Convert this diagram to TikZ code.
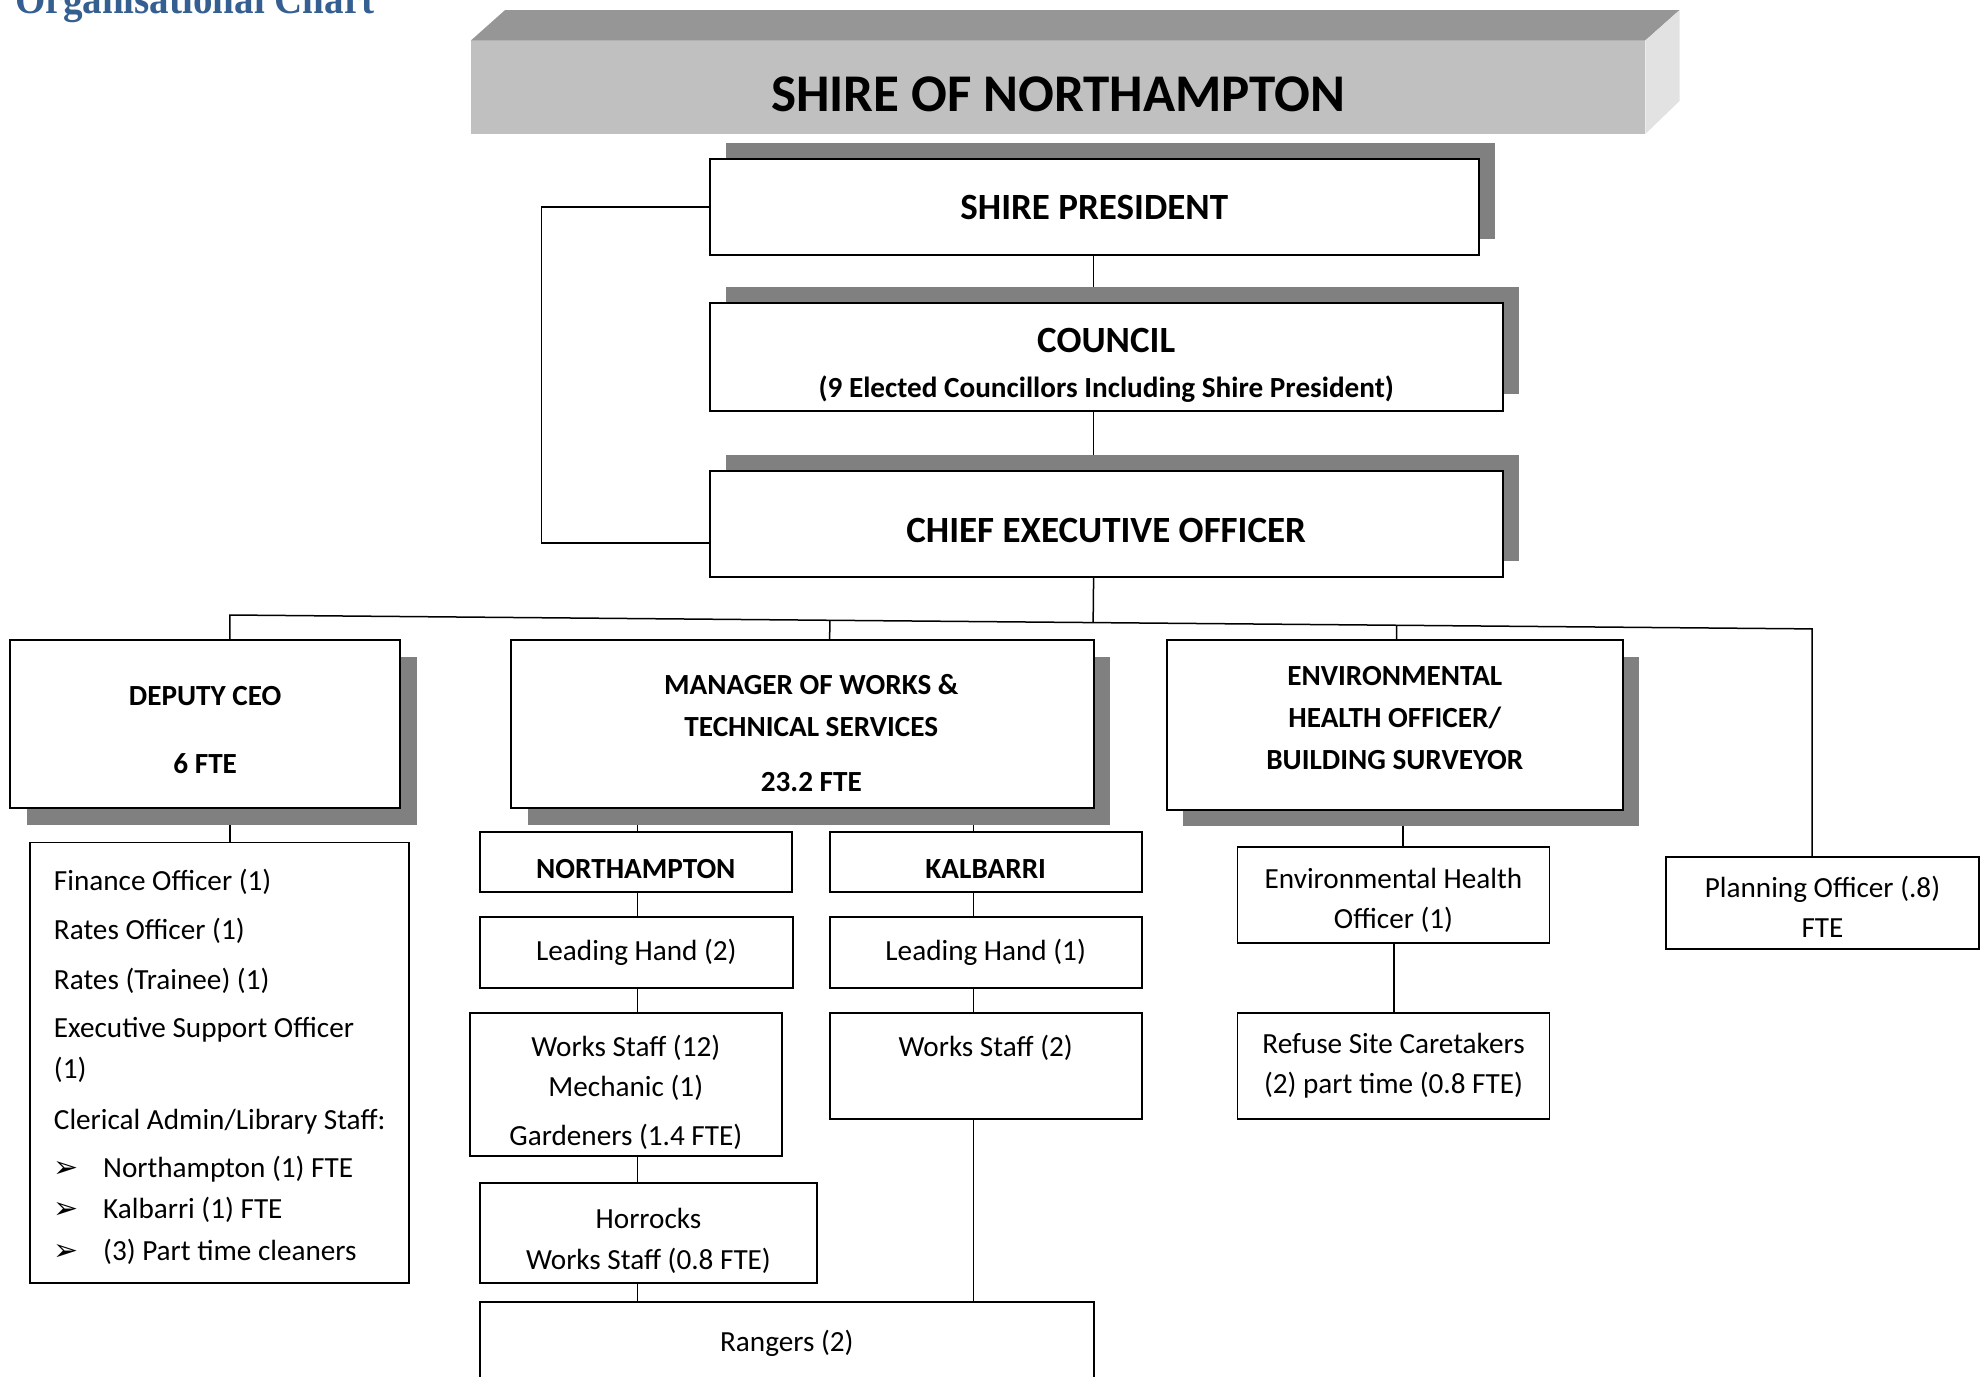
\documentclass[tikz,border=0pt]{standalone}
\usepackage{fontspec}
\setmainfont{Carlito}
\newfontfamily\symfont{DejaVu Sans}
\newfontfamily\headfont{Liberation Serif}
\usetikzlibrary{shadows,backgrounds,calc}
\definecolor{shadowgray}{RGB}{128,128,128}
\definecolor{bannertop}{RGB}{150,150,150}
\definecolor{bannerfront}{RGB}{192,192,192}
\definecolor{bannerside}{RGB}{226,226,226}
\definecolor{headblue}{RGB}{54,95,145}
\newcommand{\arrowbullet}{\makebox[24.6pt][l]{\symfont\fontsize{15}{15}\selectfont ➢}}

\begin{document}
\begin{tikzpicture}[x=5pt,y=5pt]
\tikzstyle{every node}+=[inner sep=0pt]
\tikzstyle{topbox}=[draw, line width=1pt, fill=white, align=center, font=\fontsize{18.5}{23}\selectfont\bfseries, general shadow={fill=shadowgray, shadow xshift=8.2pt, shadow yshift=8.2pt}]
\tikzstyle{deptbox}=[draw, line width=1pt, fill=white, align=center, font=\fontsize{14.6}{21}\selectfont\bfseries, general shadow={fill=shadowgray, shadow xshift=8.2pt, shadow yshift=-8.2pt}]
\tikzstyle{staffbox}=[draw, line width=0.9pt, fill=white, align=center, font=\fontsize{14.6}{20.2}\selectfont, minimum width=156pt]
\tikzstyle{link}=[line width=0.75pt]
\useasboundingbox (0,0) rectangle (198,-137.6);
% heading and banner
\node (heading) [anchor=base west, text=headblue, font=\headfont\fontsize{21}{23}\selectfont\bfseries] at (1.5,-1.35) {\scalebox{0.93}[1]{Organisational Chart}};
\fill [bannerfront] (47.1,-4.04) rectangle (164.54,-13.39);
\fill [bannertop] (47.1,-4.04) -- (50.5,-1.01) -- (167.95,-1.01) -- (164.54,-4.04) -- cycle;
\fill [bannerside] (164.54,-4.04) -- (167.95,-1.01) -- (167.95,-10.1) -- (164.54,-13.39) -- cycle;
\node (shire) [font=\fontsize{26.5}{30}\selectfont\bfseries] at (105.82,-9.47) {SHIRE OF NORTHAMPTON};
% council level
\node (sp) [topbox, minimum width=384.5pt, minimum height=48pt] at (109.42,-20.71) {SHIRE PRESIDENT};
\node (cncl) [topbox, minimum width=396.5pt, minimum height=53.7pt] at (110.62,-35.68) {\rule{0pt}{20.7pt}COUNCIL\\[-0.5pt]{\fontsize{14.6}{17}\selectfont (9 Elected Councillors Including Shire President)}};
\node (ceo) [topbox, minimum width=396.5pt, minimum height=53pt, text height=18.3pt] at (110.62,-52.41) {CHIEF EXECUTIVE OFFICER};
% departments
\node (dep) [deptbox, minimum width=195.1pt, minimum height=84pt] at (20.52,-72.42) {\rule{0pt}{15.8pt}DEPUTY CEO\\[13pt]6 FTE};
\node (mgr) [deptbox, minimum width=291.1pt, minimum height=84pt] at (80.25,-72.42) {\rule{0pt}{18.8pt}\hspace*{8.8pt}MANAGER OF WORKS \&\\\hspace*{8.8pt}TECHNICAL SERVICES\\[6.3pt]\hspace*{8.8pt}23.2 FTE};
\node (eho) [deptbox, minimum width=228pt, minimum height=84.6pt, text depth=7pt] at (139.48,-72.49) {ENVIRONMENTAL\\HEALTH OFFICER/\\BUILDING SURVEYOR};
\node (plan) [staffbox, minimum width=156.5pt, minimum height=46.2pt] at (182.25,-90.29) {\rule{0pt}{14.3pt}Planning Officer (.8)\\FTE};
% deputy ceo staff
\node (dlist) [staffbox, align=left, font=\fontsize{14.6}{20.8}\selectfont, minimum width=189.4pt, minimum height=220.3pt] at (21.97,-106.27) {\rule{0pt}{15pt}Finance Officer (1)\\[3.8pt]
Rates Officer (1)\\[3.8pt]
Rates (Trainee) (1)\\[3.2pt]
Executive Support Officer\\
(1)\\[4.5pt]
Clerical Admin/Library Staff:\hspace*{2.5pt}\\[3.2pt]
\arrowbullet Northampton (1) FTE\\
\arrowbullet Kalbarri (1) FTE\\
\arrowbullet (3) Part time cleaners};
% works
\node (nth) [staffbox, font=\fontsize{14.6}{17}\selectfont\bfseries, minimum height=29.7pt, text height=16.4pt] at (63.58,-86.19) {NORTHAMPTON};
\node (kal) [staffbox, font=\fontsize{14.6}{17}\selectfont\bfseries, minimum height=29.7pt, text height=16.4pt] at (98.57,-86.19) {KALBARRI};
\node (lhn) [staffbox, minimum width=156.5pt, minimum height=35.4pt] at (63.64,-95.22) {Leading Hand (2)};
\node (lhk) [staffbox, minimum height=35.4pt] at (98.57,-95.22) {Leading Hand (1)};
\node (wsn) [staffbox, minimum height=71.4pt] at (62.58,-108.42) {\rule{0pt}{18.8pt}Works Staff (12)\\Mechanic (1)\\[4pt]Gardeners (1.4 FTE)};
\node (wsk) [staffbox, minimum height=53pt] at (98.57,-106.58) {Works Staff (2)\\~};
\node (hor) [staffbox, minimum width=168.6pt, minimum height=49.9pt] at (64.85,-123.31) {\rule{0pt}{18pt}Horrocks\\Works Staff (0.8 FTE)};
\node (rng) [staffbox, minimum width=306.9pt, minimum height=41.5pt] at (78.68,-134.35) {Rangers (2)};
% health
\node (ehoff) [staffbox, minimum height=48pt] at (139.35,-89.53) {\rule{0pt}{15.5pt}Environmental Health\\Officer (1)};
\node (ref) [staffbox, minimum height=53pt] at (139.35,-106.58) {Refuse Site Caretakers\\(2) part time (0.8 FTE)};
% columns of the connectors
\coordinate (loopx) at (54.17,0);
\coordinate (ctr) at (109.36,0);
\coordinate (busL) at (22.98,-61.5);
\coordinate (busR) at (181.21,-62.89);
\coordinate (mcol) at (82.97,0);
\coordinate (ncol) at (63.77,0);
\coordinate (kcol) at (97.36,0);
\coordinate (ecol) at (139.67,0);
\coordinate (ecolb) at (140.3,0);
\coordinate (ecolc) at (139.41,0);
\begin{scope}[on background layer]
\draw [link] (sp.west) -- (sp.west -| loopx) |- ([yshift=-9.5pt]ceo.west);
\draw [link] (sp.south -| ctr) -- (cncl.north -| ctr);
\draw [link] (cncl.south -| ctr) -- (ceo.north -| ctr);
\draw [link] (ceo.south -| ctr) -- ($(busL)!(ceo.south -| ctr)!(busR)$);
\draw [link] (dep.north -| busL) -- (busL) -- (busR) -- (plan.north -| busR);
\draw [link] (mgr.north -| mcol) -- ($(busL)!(mgr.north -| mcol)!(busR)$);
\draw [link] (eho.north -| ecol) -- ($(busL)!(eho.north -| ecol)!(busR)$);
\draw [link] (dep.south -| busL) -- (dlist.north -| busL);
\draw [link] (mgr.south -| ncol) -- (nth.north -| ncol);
\draw [link] (nth.south -| ncol) -- (lhn.north -| ncol);
\draw [link] (lhn.south -| ncol) -- (wsn.north -| ncol);
\draw [link] (wsn.south -| ncol) -- (hor.north -| ncol);
\draw [link] (hor.south -| ncol) -- (rng.north -| ncol);
\draw [link] (mgr.south -| kcol) -- (kal.north -| kcol);
\draw [link] (kal.south -| kcol) -- (lhk.north -| kcol);
\draw [link] (lhk.south -| kcol) -- (wsk.north -| kcol);
\draw [link] (wsk.south -| kcol) -- (rng.north -| kcol);
\draw [link] (eho.south -| ecolb) -- (ehoff.north -| ecolb);
\draw [link] (ehoff.south -| ecolc) -- (ref.north -| ecolc);
\end{scope}
\end{tikzpicture}
\end{document}
